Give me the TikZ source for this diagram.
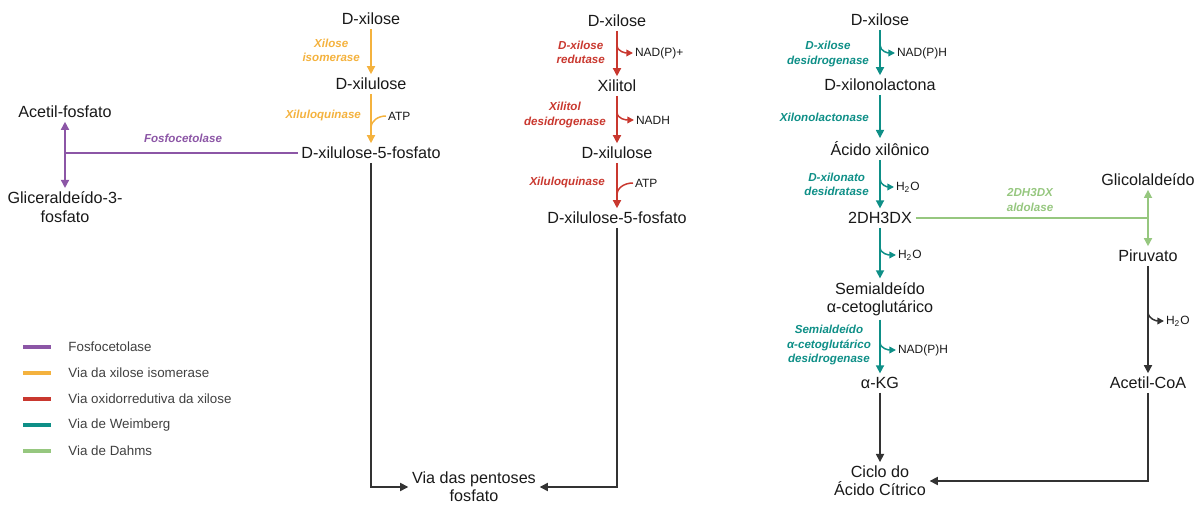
\documentclass[tikz,border=0pt]{standalone}
\usepackage{fontspec}
\setmainfont{Liberation Sans}
\usepackage{tikz}
\usetikzlibrary{positioning, arrows.meta}
\definecolor{FosPurple}{RGB}{140,86,166}
\definecolor{IsoOrange}{RGB}{244,178,62}
\definecolor{RedoxRed}{RGB}{201,56,47}
\definecolor{WeimTeal}{RGB}{14,143,135}
\definecolor{DahmsGreen}{RGB}{150,199,127}
\definecolor{InkGray}{RGB}{51,51,51}
\tikzset{
  cpd/.style={font=\fontsize{9.2}{10.4}\selectfont, align=center, inner sep=2pt, text=black!90},
  enz/.style={font=\fontsize{6.6}{8}\selectfont\bfseries\itshape, align=center, anchor=east, inner sep=1pt},
  cof/.style={font=\fontsize{6.8}{8}\selectfont, anchor=west, inner sep=1pt, text=black!90},
  rxn/.style={-{Triangle[length=4.6pt,width=4.6pt]}, line width=0.85pt},
  biarrow/.style={{Triangle[length=4.6pt,width=4.6pt]}-{Triangle[length=4.6pt,width=4.6pt]}, line width=0.85pt},
  brout/.style={-{Triangle[length=3.8pt,width=3.8pt]}, line width=0.85pt},
  brin/.style={line width=0.85pt},
  plainline/.style={line width=0.85pt},
  legbar/.style={line width=2.8pt},
  legtext/.style={font=\fontsize{7.6}{9}\selectfont, text=black!75, inner sep=0pt},
}

\begin{document}
\begin{tikzpicture}[x=0.02cm, y=-0.02cm]
\useasboundingbox (0,0) rectangle (1201,506);

% via da xilose isomerase
\node[cpd] (xiA) at (371,19) {D-xilose};
\node[cpd] (xuA) at (371,84) {D-xilulose};
\node[cpd] (x5pA) at (371,153) {D-xilulose-5-fosfato};
\draw[rxn, IsoOrange] (xiA) -- (xuA);
\draw[rxn, IsoOrange] (xuA) -- (x5pA);
\node[enz, IsoOrange] (xisoA) at (362,50) {Xilose\\isomerase};
\node[enz, IsoOrange] (xkA) at (363,116) {Xiluloquinase};
\node[cof] (atpA) at (386,116) {ATP};
\coordinate (jA) at (371,128);
\draw[brin, IsoOrange] (atpA.west) to[out=180,in=90] (jA);

% fosfocetolase
\node[cpd] (acp) at (65,112) {Acetil-fosfato};
\node[cpd] (g3p) at (65,207) {Gliceraldeído-3-\\fosfato};
\draw[biarrow, FosPurple] (acp) -- (g3p);
\draw[plainline, FosPurple] (x5pA.west) -- (x5pA.west -| acp.south);
\node[enz, FosPurple, anchor=center] (fos) at (183,138) {Fosfocetolase};

% via oxidorredutiva
\node[cpd] (xiB) at (617,21) {D-xilose};
\node[cpd] (xol) at (617,86) {Xilitol};
\node[cpd] (xuB) at (617,153) {D-xilulose};
\node[cpd] (x5pB) at (617,218) {D-xilulose-5-fosfato};
\draw[rxn, RedoxRed] (xiB) -- (xol);
\draw[rxn, RedoxRed] (xol) -- (xuB);
\draw[rxn, RedoxRed] (xuB) -- (x5pB);
\node[enz, RedoxRed] (xrB) at (607,52) {D-xilose\\redutase};
\node[enz, RedoxRed] (xdhB) at (608,115) {Xilitol\\desidrogenase};
\node[enz, RedoxRed] (xkB) at (607,183) {Xiluloquinase};
\node[cof] (nadpB) at (633,53) {NAD(P)+};
\node[cof] (nadhB) at (634,120) {NADH};
\node[cof] (atpB) at (633,183) {ATP};
\coordinate (bB1) at (617,45);
\coordinate (bB2) at (617,112);
\coordinate (jB) at (617,195);
\draw[brout, RedoxRed] (bB1) to[out=-90,in=180] (nadpB.west);
\draw[brout, RedoxRed] (bB2) to[out=-90,in=180] (nadhB.west);
\draw[brin, RedoxRed] (atpB.west) to[out=180,in=90] (jB);

% via das pentoses fosfato
\node[cpd] (ppp) at (474,487) {Via das pentoses\\fosfato};
\draw[rxn, InkGray] (x5pA.south) |- (ppp.west);
\draw[rxn, InkGray] (x5pB.south) |- (ppp.east);

% via de Weimberg
\node[cpd] (xiC) at (880,20) {D-xilose};
\node[cpd] (xlac) at (880,85) {D-xilonolactona};
\node[cpd] (xac) at (880,149) {Ácido xilônico};
\node[cpd] (dx) at (880,218) {2DH3DX};
\node[cpd] (ksa) at (880,299) {Semialdeído\\α-cetoglutárico};
\node[cpd] (akg) at (880,383) {α-KG};
\node[cpd] (tca) at (880,481) {Ciclo do\\Ácido Cítrico};
\draw[rxn, WeimTeal] (xiC) -- (xlac);
\draw[rxn, WeimTeal] (xlac) -- (xac);
\draw[rxn, WeimTeal] (xac) -- (dx);
\draw[rxn, WeimTeal] (dx) -- (ksa);
\draw[rxn, WeimTeal] (ksa) -- (akg);
\draw[rxn, InkGray] (akg) -- (tca);
\node[enz, WeimTeal] (xdC) at (871,54) {D-xilose\\desidrogenase};
\node[enz, WeimTeal] (xlC) at (871,117) {Xilonolactonase};
\node[enz, WeimTeal] (xtC) at (871,184) {D-xilonato\\desidratase};
\node[enz, WeimTeal] (ksC) at (873,345) {Semialdeído\\α-cetoglutárico\\desidrogenase};
\node[cof] (nadpC1) at (895,53) {NAD(P)H};
\node[cof] (waterC1) at (894,187) {H\textsubscript{2}O};
\node[cof] (waterC2) at (896,255) {H\textsubscript{2}O};
\node[cof] (nadpC2) at (896,350) {NAD(P)H};
\coordinate (bC1) at (880,45);
\coordinate (bC2) at (880,179);
\coordinate (bC3) at (880,247);
\coordinate (bC4) at (880,342);
\draw[brout, WeimTeal] (bC1) to[out=-90,in=180] (nadpC1.west);
\draw[brout, WeimTeal] (bC2) to[out=-90,in=180] (waterC1.west);
\draw[brout, WeimTeal] (bC3) to[out=-90,in=180] (waterC2.west);
\draw[brout, WeimTeal] (bC4) to[out=-90,in=180] (nadpC2.west);

% via de Dahms
\node[cpd] (glc) at (1148,180) {Glicolaldeído};
\node[cpd] (pir) at (1148,256) {Piruvato};
\node[cpd] (acoa) at (1148,383) {Acetil-CoA};
\draw[plainline, DahmsGreen] (dx.east) -- (dx.east -| glc.south);
\draw[biarrow, DahmsGreen] (glc) -- (pir);
\node[enz, DahmsGreen, anchor=center] (aldD) at (1030,200) {2DH3DX\\aldolase};
\draw[rxn, InkGray] (pir) -- (acoa);
\draw[rxn, InkGray] (acoa.south) |- (tca.east);
\node[cof] (waterD) at (1164,321) {H\textsubscript{2}O};
\coordinate (bD) at (1148,312);
\draw[brout, InkGray] (bD) to[out=-90,in=180] (waterD.west);

% legenda
\foreach \c/\t [count=\i from 0] in {FosPurple/Fosfocetolase, IsoOrange/Via da xilose isomerase, RedoxRed/Via oxidorredutiva da xilose, WeimTeal/Via de Weimberg, DahmsGreen/Via de Dahms} {
  \draw[legbar, \c] (23,{347+26*\i}) -- (51,{347+26*\i}) node[legtext, right=0.3cm] (leg\i) {\t};
}
\end{tikzpicture}
\end{document}
